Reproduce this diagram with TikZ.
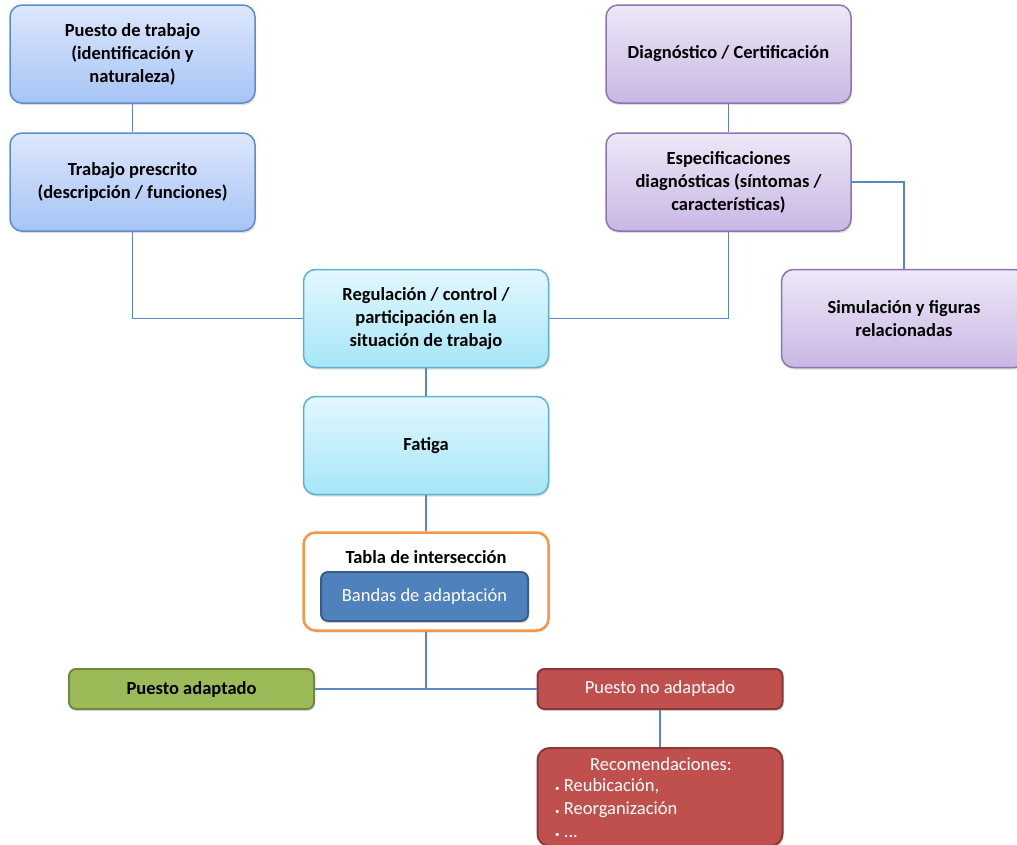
\documentclass[tikz,border=0pt]{standalone}
\usepackage{fontspec}
\setmainfont{Carlito}
\usetikzlibrary{shadows}
\definecolor{linea}{HTML}{5B87C5}
\definecolor{azulB}{HTML}{5B8DC9}
\definecolor{moradoB}{HTML}{8E74B0}
\definecolor{cianB}{HTML}{5DB3CC}
\tikzset{
  caja/.style = {rectangle, rounded corners=12pt, align=center, line width=1.5pt,
    minimum width=245pt, minimum height=98pt, inner sep=4pt,
    font=\fontsize{18.5}{23}\selectfont\bfseries,
    drop shadow={opacity=0.25, shadow xshift=1pt, shadow yshift=-2pt}},
  caja_az/.style = {caja, draw=azulB, top color={rgb,255:red,220;green,231;blue,252}, bottom color={rgb,255:red,166;green,196;blue,245}},% puesto
  caja_mo/.style = {caja, draw=moradoB, top color={rgb,255:red,238;green,232;blue,247}, bottom color={rgb,255:red,201;green,183;blue,228}},% diagnostico
  caja_ci/.style = {caja, draw=cianB, top color={rgb,255:red,226;green,248;blue,253}, bottom color={rgb,255:red,166;green,230;blue,248}},% regulacion
  plana/.style = {rectangle, rounded corners=7pt, align=center, line width=2pt,
    minimum width=245pt, minimum height=40pt, inner sep=3pt,
    font=\fontsize{18.5}{23}\selectfont,
    drop shadow={opacity=0.25, shadow xshift=1pt, shadow yshift=-2pt}},
  conector/.style = {draw=linea, line width=1.5pt}
}

\begin{document}
\begin{tikzpicture}[x=1pt,y=-1pt]
  \useasboundingbox (0,0) rectangle (1017,844);

  % columna izquierda
  \node [caja_az] (puesto) at (132.5,54) {Puesto de trabajo\\(identificación y\\naturaleza)};
  \node [caja_az] (prescrito) at (132.5,182) {Trabajo prescrito\\(descripción / funciones)};

  % columna derecha
  \node [caja_mo] (diag) at (728.5,54) {Diagnóstico / Certificación};
  \node [caja_mo] (espec) at (728.5,182) {Especificaciones\\diagnósticas (síntomas /\\características)};
  \node [caja_mo] (simul) at (904,318.5) {Simulación y figuras\\relacionadas};

  % centro
  \node [caja_ci] (regul) at (426,318.5) {Regulación / control /\\participación en la\\situación de trabajo};
  \node [caja_ci] (fatiga) at (426,445.5) {Fatiga};
  \node [caja, draw={rgb,255:red,247;green,150;blue,70}, fill=white, line width=2.5pt, drop shadow={opacity=0}] (tabla) at (426,581.5) {};
  \node [font=\fontsize{18.5}{23}\selectfont\bfseries] (tablatxt) at (426,557) {Tabla de intersección};
  \node [plana, draw={rgb,255:red,56;green,93;blue,138}, fill={rgb,255:red,79;green,129;blue,189},
    minimum width=207pt, minimum height=49pt, text=white] (bandas) at (424.5,596.5) {Bandas de adaptación};

  % resultados
  \node [plana, draw={rgb,255:red,113;green,137;blue,63}, fill={rgb,255:red,155;green,187;blue,89},
    font=\fontsize{18.5}{23}\selectfont\bfseries] (adapt) at (191.5,689) {Puesto adaptado};
  \node [plana, draw={rgb,255:red,140;green,56;blue,54}, fill={rgb,255:red,192;green,80;blue,77},
    text=white] (noadapt) at (660,689) {Puesto no adaptado};
  \node [plana, draw={rgb,255:red,140;green,56;blue,54}, fill={rgb,255:red,192;green,80;blue,77},
    text=white, minimum height=98pt, rounded corners=12pt, align=left, anchor=north] (recom) at (660,747) {};
  \node [text=white, font=\fontsize{18.5}{23}\selectfont] (recomtit) at (661,764) {Recomendaciones:};
  \node [text=white, font=\fontsize{18.5}{23}\selectfont, align=left, anchor=north west, inner sep=0pt] (recomlst) at (555,778)
    {{\small•} Reubicación,\\{\small•} Reorganización\\{\small•} ...};

  % conectores
  \draw [conector] (puesto) -- (prescrito);
  \draw [conector] (diag) -- (espec);
  \draw [conector] (prescrito.south) |- (regul.west);
  \draw [conector] (espec.south) |- (regul.east);
  \draw [conector] (espec.east) -| (simul.north);
  \draw [conector] (regul) -- (fatiga);
  \draw [conector] (fatiga) -- (tabla);
  \draw [conector] (tabla.south) |- (adapt.east);
  \draw [conector] (tabla.south) |- (noadapt.west);
  \draw [conector] (noadapt) -- (recom);
\end{tikzpicture}
\end{document}
